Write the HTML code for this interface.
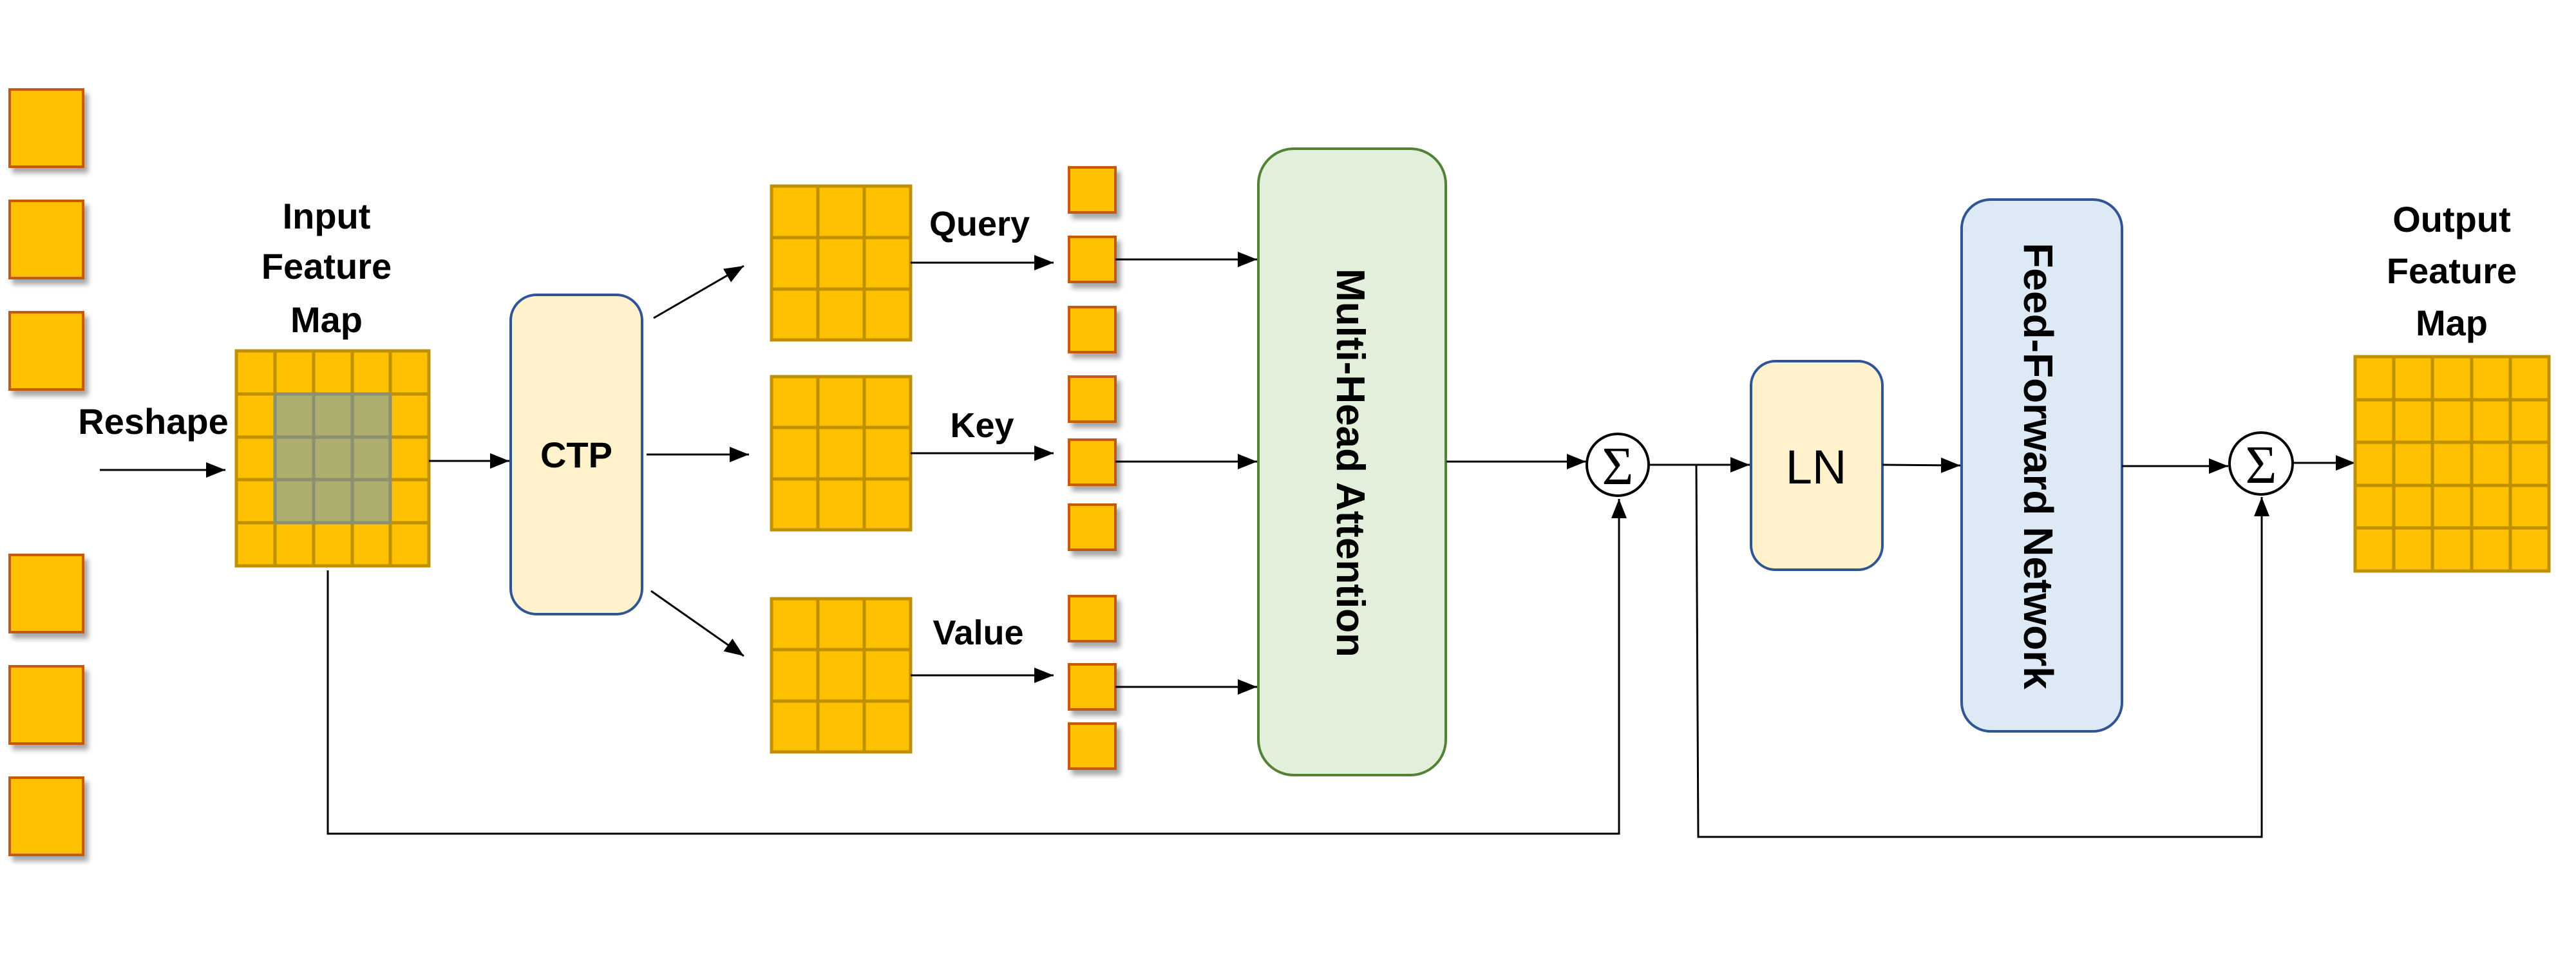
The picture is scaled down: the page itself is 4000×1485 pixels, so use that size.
<!DOCTYPE html>
<html><head><meta charset="utf-8"><style>
html,body{margin:0;padding:0;background:#fff;}
svg{display:block;}
text{font-family:"Liberation Sans",sans-serif;font-weight:bold;fill:#000;}
</style></head><body>
<svg width="4000" height="1485" viewBox="0 0 4000 1485" xmlns="http://www.w3.org/2000/svg">
<defs>
<marker id="a" viewBox="0 0 30 24" refX="30" refY="12" markerWidth="30" markerHeight="24" orient="auto" markerUnits="userSpaceOnUse">
<path d="M0,0 L30,12 L0,24 Z" fill="#000"/>
</marker>
<filter id="sh" x="-20%" y="-20%" width="150%" height="150%">
<feDropShadow dx="6" dy="8" stdDeviation="4" flood-color="#000" flood-opacity="0.35"/>
</filter>
</defs>

<g fill="#ffc000" stroke="#c55a11" stroke-width="4" filter="url(#sh)">
<rect x="15" y="139" width="114" height="120"/>
<rect x="15" y="312" width="114" height="120"/>
<rect x="15" y="485" width="114" height="120"/>
<rect x="15" y="862" width="114" height="120"/>
<rect x="15" y="1035" width="114" height="120"/>
<rect x="15" y="1208" width="114" height="120"/>
</g>

<g font-size="56" text-anchor="middle">
<text x="507" y="355">Input</text>
<text x="507" y="433">Feature</text>
<text x="507" y="516">Map</text>
<text x="238" y="674">Reshape</text>
</g>
<line x1="155" y1="730" x2="350" y2="730" stroke="#000" stroke-width="3" marker-end="url(#a)"/>

<g stroke="#bf9000" stroke-width="5">
<rect x="367" y="545" width="299" height="334" fill="#ffc000"/>
<rect x="427" y="612" width="179" height="200" fill="#adad6e" stroke="none"/>
<path d="M427,545V879M487,545V879M547,545V879M606,545V879M367,612H666M367,679H666M367,745H666M367,812H666" fill="none"/>
<path d="M427,612V812M487,612V812M547,612V812M606,612V812M427,612H606M427,679H606M427,745H606M427,812H606" fill="none" stroke="#8a9070"/>
</g>

<line x1="666" y1="716" x2="791" y2="716" stroke="#000" stroke-width="3" marker-end="url(#a)"/>

<rect x="793" y="458" width="204" height="496" rx="40" fill="#fff2cc" stroke="#2f5597" stroke-width="4"/>
<text x="895" y="726" font-size="56" text-anchor="middle">CTP</text>

<line x1="1015" y1="494" x2="1155" y2="413" stroke="#000" stroke-width="3" marker-end="url(#a)"/>
<line x1="1004" y1="706" x2="1163" y2="706" stroke="#000" stroke-width="3" marker-end="url(#a)"/>
<line x1="1011" y1="918" x2="1155" y2="1019" stroke="#000" stroke-width="3" marker-end="url(#a)"/>

<g stroke="#bf9000" stroke-width="5" fill="#ffc000">
<rect x="1198" y="289" width="216" height="239"/>
<path d="M1270,289V528M1342,289V528M1198,369H1414M1198,449H1414" fill="none"/>
<rect x="1198" y="585" width="216" height="238"/>
<path d="M1270,585V823M1342,585V823M1198,664H1414M1198,744H1414" fill="none"/>
<rect x="1198" y="930" width="216" height="238"/>
<path d="M1270,930V1168M1342,930V1168M1198,1009H1414M1198,1089H1414" fill="none"/>
</g>
<g font-size="54" text-anchor="middle">
<text x="1521" y="366">Query</text>
<text x="1525" y="679">Key</text>
<text x="1519" y="1001">Value</text>
</g>
<line x1="1414" y1="408" x2="1636" y2="408" stroke="#000" stroke-width="3" marker-end="url(#a)"/>
<line x1="1414" y1="704" x2="1636" y2="704" stroke="#000" stroke-width="3" marker-end="url(#a)"/>
<line x1="1414" y1="1049" x2="1636" y2="1049" stroke="#000" stroke-width="3" marker-end="url(#a)"/>

<g fill="#ffc000" stroke="#c55a11" stroke-width="4" filter="url(#sh)">
<rect x="1660" y="260" width="72" height="70"/>
<rect x="1660" y="368" width="72" height="70"/>
<rect x="1660" y="477" width="72" height="70"/>
<rect x="1660" y="585" width="72" height="70"/>
<rect x="1660" y="683" width="72" height="70"/>
<rect x="1660" y="784" width="72" height="70"/>
<rect x="1660" y="926" width="72" height="70"/>
<rect x="1660" y="1032" width="72" height="70"/>
<rect x="1660" y="1124" width="72" height="70"/>
</g>
<line x1="1732" y1="403" x2="1952" y2="403" stroke="#000" stroke-width="3" marker-end="url(#a)"/>
<line x1="1732" y1="717" x2="1952" y2="717" stroke="#000" stroke-width="3" marker-end="url(#a)"/>
<line x1="1732" y1="1067" x2="1952" y2="1067" stroke="#000" stroke-width="3" marker-end="url(#a)"/>

<rect x="1954" y="231" width="291" height="973" rx="55" fill="#e2efda" stroke="#538135" stroke-width="4"/>
<text transform="translate(2098,719) rotate(90)" x="0" y="22" font-size="62" text-anchor="middle">Multi-Head Attention</text>

<line x1="2246" y1="717" x2="2463" y2="717" stroke="#000" stroke-width="3" marker-end="url(#a)"/>
<circle cx="2512" cy="722" r="48" fill="#fff" stroke="#000" stroke-width="4"/>
<text x="2512" y="752" font-size="84" text-anchor="middle" style="font-weight:normal;font-family:'Liberation Serif',serif">Σ</text>
<polyline points="509,886 509,1295 2514,1295 2514,775" fill="none" stroke="#000" stroke-width="3" marker-end="url(#a)"/>
<line x1="2560" y1="722" x2="2717" y2="722" stroke="#000" stroke-width="3" marker-end="url(#a)"/>
<polyline points="2634,722 2637,1300 3512,1300 3512,772" fill="none" stroke="#000" stroke-width="3" marker-end="url(#a)"/>

<rect x="2719" y="561" width="204" height="324" rx="38" fill="#fff2cc" stroke="#2f5597" stroke-width="4"/>
<text x="2820" y="751" font-size="74" text-anchor="middle" style="font-weight:normal">LN</text>
<line x1="2923" y1="722" x2="3044" y2="723" stroke="#000" stroke-width="3" marker-end="url(#a)"/>

<rect x="3046" y="310" width="249" height="826" rx="45" fill="#dde9f5" stroke="#2f5597" stroke-width="4"/>
<text transform="translate(3166,724) rotate(90)" x="0" y="23" font-size="64" text-anchor="middle">Feed-Forward Network</text>

<line x1="3295" y1="724" x2="3460" y2="724" stroke="#000" stroke-width="3" marker-end="url(#a)"/>
<ellipse cx="3511" cy="720" rx="49" ry="48" fill="#fff" stroke="#000" stroke-width="4"/>
<text x="3511" y="750" font-size="84" text-anchor="middle" style="font-weight:normal;font-family:'Liberation Serif',serif">Σ</text>
<line x1="3560" y1="719" x2="3657" y2="719" stroke="#000" stroke-width="3" marker-end="url(#a)"/>

<g stroke="#bf9000" stroke-width="5">
<rect x="3657" y="554" width="301" height="333" fill="#ffc000"/>
<path d="M3717,554V887M3777,554V887M3838,554V887M3898,554V887M3657,621H3958M3657,687H3958M3657,754H3958M3657,820H3958" fill="none"/>
</g>
<g font-size="56" text-anchor="middle">
<text x="3807" y="360">Output</text>
<text x="3807" y="440">Feature</text>
<text x="3807" y="521">Map</text>
</g>
</svg>
</body></html>
